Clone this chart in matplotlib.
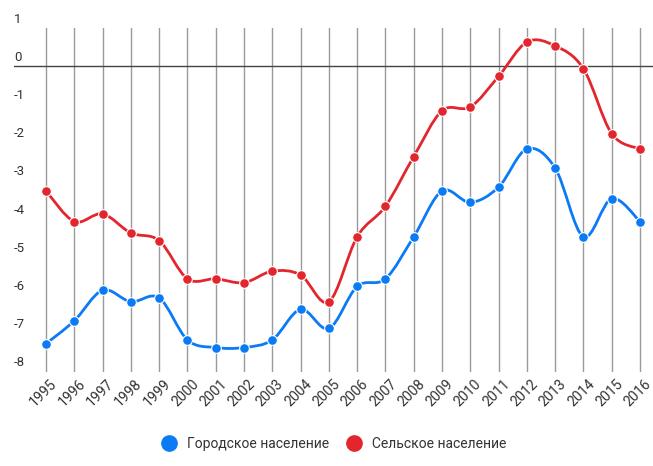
import numpy as np
import matplotlib.pyplot as plt
import matplotlib.transforms as mtransforms
from matplotlib.path import Path
from matplotlib.patches import PathPatch
from matplotlib.lines import Line2D

plt.rcParams['font.family'] = ['Roboto', 'DejaVu Sans']

years = list(range(1995, 2017))
urban = [-7.5, -6.9, -6.1, -6.4, -6.3, -7.4, -7.6, -7.6, -7.4, -6.6, -7.1,
         -6.0, -5.8, -4.7, -3.5, -3.8, -3.4, -2.4, -2.9, -4.7, -3.7, -4.3]
rural = [-3.5, -4.3, -4.1, -4.6, -4.8, -5.8, -5.8, -5.9, -5.6, -5.7, -6.4,
         -4.7, -3.9, -2.6, -1.4, -1.3, -0.5, 0.4, 0.3, -0.3, -2.0, -2.4]
y_labels = list(range(1, -9, -1))
series_names = ['Городское население', 'Сельское население']
colors = ['#0a7af5', '#e3262d']

W, H = 653, 466
L, R, T, B = 14, 653, 28, 372
# vertical frame: label value v sits at pixel 57.3 - 38.19 * v
PX0, PXU = 57.3, 38.19
ymax = (PX0 - T) / PXU
ymin = (PX0 - B) / PXU
baseline = (PX0 - 66.3) / PXU
step = (640 - 46) / 21
xmin = 1995 - (46 - L) / step
xmax = 2016 + (R - 640) / step


def smooth_path(x, y, k=1.0):
    pts = np.column_stack([x, y]).astype(float)
    n = len(pts)
    verts = [pts[0]]
    codes = [Path.MOVETO]
    for i in range(n - 1):
        p_prev = pts[max(i - 1, 0)]
        p0 = pts[i]
        p1 = pts[i + 1]
        p_next = pts[min(i + 2, n - 1)]
        c1 = p0 + (p1 - p_prev) / 6 * k
        c2 = p1 - (p_next - p0) / 6 * k
        verts += [c1, c2, p1]
        codes += [Path.CURVE4] * 3
    return Path(verts, codes)


fig = plt.figure(figsize=(W / 100, H / 100), dpi=100)
ax = fig.add_axes([L / W, 1 - B / H, (R - L) / W, (B - T) / H])
ax.set_xlim(xmin, xmax)
ax.set_ylim(ymin, ymax)
for s in ax.spines.values():
    s.set_visible(False)

ax.set_xticks(years)
ax.set_xticklabels([str(y) for y in years], rotation=45, ha='right',
                   va='top', rotation_mode='anchor', fontsize=10.2,
                   color='#333333')
ax.tick_params(axis='x', length=0, pad=3.5)
shift = mtransforms.ScaledTranslation(4 / 100, 0, fig.dpi_scale_trans)
for lbl in ax.get_xticklabels():
    lbl.set_transform(lbl.get_transform() + shift)
ax.set_yticks([])
ax.grid(axis='x', color='#9a9a9a', linewidth=1)
ax.axhline(baseline, color='#444444', linewidth=1, zorder=2)

for v in y_labels:
    ax.text(0.0, v, str(v), transform=ax.get_yaxis_transform(),
            ha='left', va='center', fontsize=9.5, color='#333333',
            clip_on=False)

for vals, c in zip([urban, rural], colors):
    ax.add_patch(PathPatch(smooth_path(years, vals), facecolor='none',
                           edgecolor=c, linewidth=2.0, zorder=3))
    ax.plot(years, vals, linestyle='none', marker='o', markersize=7,
            markerfacecolor=c, markeredgecolor='white', markeredgewidth=0.8,
            zorder=4)

handles = [Line2D([], [], linestyle='none', marker='o', markersize=11,
                  markerfacecolor=c, markeredgecolor=c) for c in colors]
fig.legend(handles, series_names, loc='center', ncol=2, frameon=False,
           bbox_to_anchor=(331 / W, 1 - 444 / H), fontsize=10,
           handletextpad=0.3, columnspacing=0.8, labelcolor='#333333')

fig.savefig('out.png', dpi=100)
